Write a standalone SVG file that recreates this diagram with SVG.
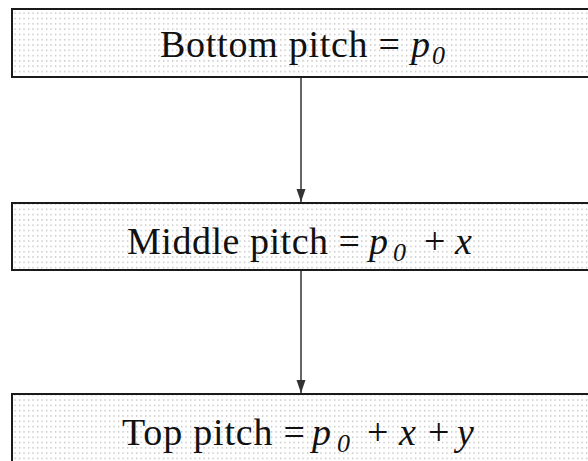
<svg xmlns="http://www.w3.org/2000/svg" width="588" height="461" viewBox="0 0 588 461">
<defs>
<pattern id="dots" x="0" y="0" width="4.5" height="5.3" patternUnits="userSpaceOnUse">
<rect x="1" y="2" width="1.2" height="1.2" fill="#a8a8a8"/>
</pattern>
<marker id="arr" viewBox="0 0 13 10" refX="13" refY="5" markerWidth="13" markerHeight="10" markerUnits="userSpaceOnUse" orient="auto">
<path d="M0,0.5 L13,5 L0,9.5 Z" fill="#333"/>
</marker>
<style>
.box{fill:url(#dots);stroke:#1a1a1a;stroke-width:2}
.t{font-family:"Liberation Serif","Times New Roman",serif;font-size:38px;fill:#111}
.i{font-style:italic}
.s{font-style:italic;font-size:26px}
.c{stroke:#333;stroke-width:1.5;fill:none}
</style>
</defs>
<rect width="588" height="461" fill="#fff"/>
<g id="connectors">
<line class="c" x1="301" y1="78" x2="301" y2="202" marker-end="url(#arr)"/>
<line class="c" x1="301" y1="271" x2="301" y2="393" marker-end="url(#arr)"/>
</g>
<g id="bottom">
<rect class="box" x="12" y="9" width="590" height="68"/>
<text class="t" y="57"><tspan x="160" textLength="240" lengthAdjust="spacing">Bottom pitch =</tspan><tspan class="i" x="411">p</tspan><tspan class="s" x="432" dy="7">0</tspan></text>
</g>
<g id="middle">
<rect class="box" x="12" y="203" width="590" height="67"/>
<text class="t" y="254"><tspan x="127" textLength="233" lengthAdjust="spacing">Middle pitch =</tspan><tspan class="i" x="369">p</tspan><tspan class="s" x="393" dy="7">0</tspan><tspan x="424" dy="-7">+</tspan><tspan class="i" x="455">x</tspan></text>
</g>
<g id="top">
<rect class="box" x="12" y="394" width="590" height="80"/>
<text class="t" y="445"><tspan x="122" textLength="183" lengthAdjust="spacing">Top pitch =</tspan><tspan class="i" x="312">p</tspan><tspan class="s" x="337" dy="7">0</tspan><tspan x="367" dy="-7">+</tspan><tspan class="i" x="399">x</tspan><tspan x="428">+</tspan><tspan class="i" x="457">y</tspan></text>
</g>
</svg>
